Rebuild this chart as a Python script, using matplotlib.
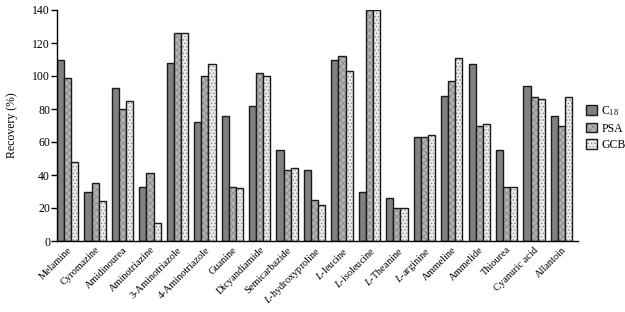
#!/usr/bin/env python3
"""Recovery of 19 analytes with three clean-up sorbents (C18, PSA, GCB)."""
import matplotlib

matplotlib.use("Agg")
import matplotlib.pyplot as plt
import numpy as np
from matplotlib.patches import Patch

compounds = [
    "Melamine", "Cyromazine", "Amidinourea", "Aminotriazine", "3-Aminotriazole",
    "4-Aminotriazole", "Guanine", "Dicyandiamide", "Semicarbazide",
    "$\\mathit{L}$-hydroxyproline", "$\\mathit{L}$-leucine", "$\\mathit{L}$-isoleucine",
    "$\\mathit{L}$-Theanine", "$\\mathit{L}$-arginine", "Ammeline", "Ammelide",
    "Thiourea", "Cyanuric acid", "Allantoin",
]
c18 = [110, 30, 93, 33, 108, 72, 76, 82, 55, 43, 110, 30, 26, 63, 88, 107, 55, 94, 76]
psa = [99, 35, 80, 41, 126, 100, 33, 102, 43, 25, 112, 140, 20, 63, 97, 70, 33, 87, 70]
gcb = [48, 24, 85, 11, 126, 107, 32, 100, 44, 22, 103, 140, 20, 64, 111, 71, 33, 86, 87]

plt.rcParams["font.family"] = ["Liberation Serif", "DejaVu Serif"]
plt.rcParams["mathtext.default"] = "regular"
plt.rcParams["mathtext.fontset"] = "custom"
plt.rcParams["mathtext.it"] = "Liberation Serif:italic"
plt.rcParams["mathtext.rm"] = "Liberation Serif"
plt.rcParams["hatch.linewidth"] = 0.6

fig = plt.figure(figsize=(6.25, 3.12), dpi=100)
ax = fig.add_axes([57 / 625, 1 - 241 / 312, 521 / 625, 231 / 312])

x = np.arange(len(compounds))
width = 0.26
styles = [
    (c18, "#808080", None, "#808080"),
    (psa, "#b4b4b4", "xxxxx", "#8a8a8a"),
    (gcb, "#ececec", ".....", "#8a8a8a"),
]
handles = []
for k, (values, face, hatch, hatch_color) in enumerate(styles):
    pos = x + (k - 1) * width
    ax.bar(pos, values, width, color=face, hatch=hatch, edgecolor=hatch_color, linewidth=0)
    ax.bar(pos, values, width, fill=False, edgecolor="#1a1a1a", linewidth=1.0)
    handles.append((Patch(facecolor=face, hatch=hatch, edgecolor=hatch_color, linewidth=0),
                    Patch(fill=False, edgecolor="#1a1a1a", linewidth=1.0)))

ax.set_xlim(-0.39, len(compounds) - 0.4)
ax.set_ylim(0, 140)
ax.set_yticks(np.arange(0, 141, 20))
ax.set_xticks(x)
ax.set_xticklabels(compounds, rotation=45, ha="right", rotation_mode="anchor", fontsize=7.5)
ax.tick_params(axis="x", length=0, pad=3)
ax.tick_params(axis="y", length=4, width=1, labelsize=8.5, pad=1)
ax.spines[["top", "right"]].set_visible(False)
ax.spines[["left", "bottom"]].set_linewidth(1.0)
ax.set_ylabel("Recovery (%)", fontsize=8.5, labelpad=10)

fig.legend(handles, ["C$_{18}$", "PSA", "GCB"], loc="upper left",
           bbox_to_anchor=(586 / 625, 1 - 104 / 312), frameon=False, fontsize=8.5,
           handlelength=0.9, handleheight=0.9, handletextpad=0.4, labelspacing=0.4,
           borderpad=0, borderaxespad=0)

fig.savefig("out.png", dpi=100, facecolor="white")
